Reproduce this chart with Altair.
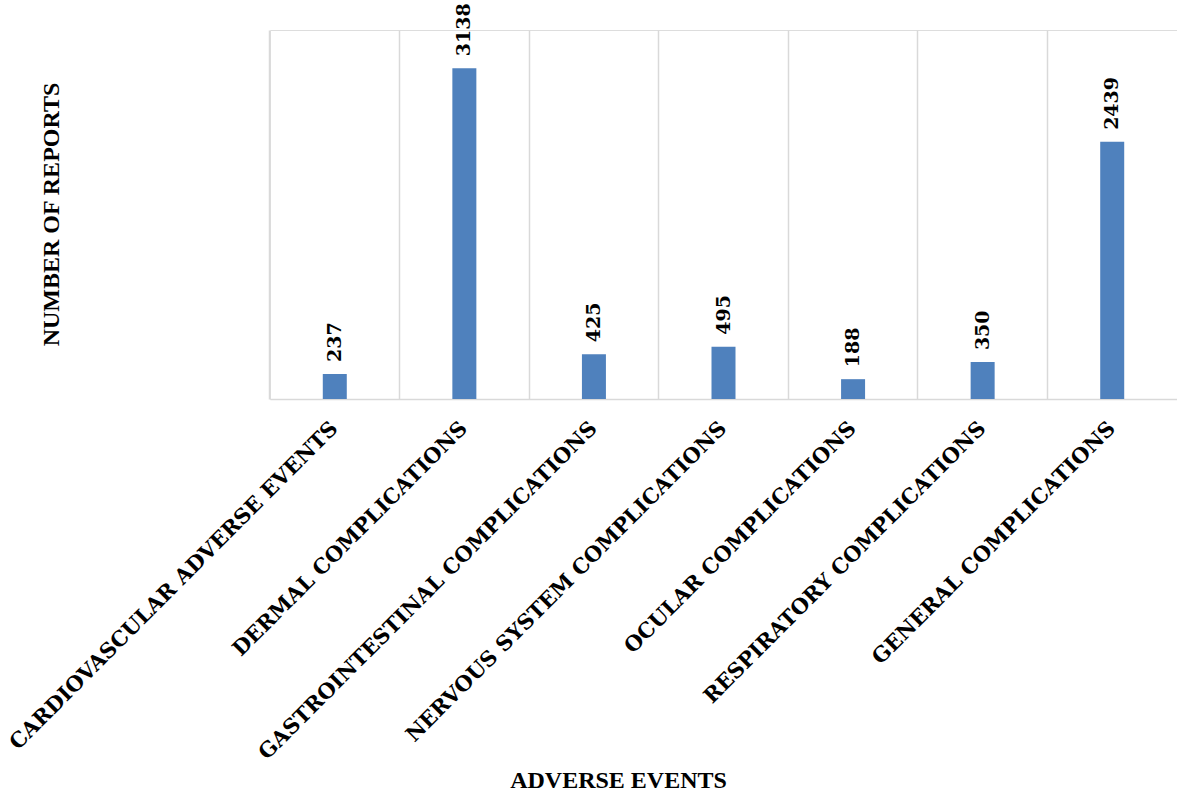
import altair as alt
import pandas as pd

categories = [
    "CARDIOVASCULAR ADVERSE EVENTS",
    "DERMAL COMPLICATIONS",
    "GASTROINTESTINAL COMPLICATIONS",
    "NERVOUS SYSTEM COMPLICATIONS",
    "OCULAR COMPLICATIONS",
    "RESPIRATORY COMPLICATIONS",
    "GENERAL COMPLICATIONS",
]
reports = [237, 3138, 425, 495, 188, 350, 2439]

df = pd.DataFrame({"event": categories, "reports": reports})

W, H = 907, 369
x = alt.X(
    "event:N",
    sort=categories,
    scale=alt.Scale(paddingInner=0, paddingOuter=0),
    axis=alt.Axis(
        title="ADVERSE EVENTS",
        titleFont="Liberation Serif",
        titleFontSize=24,
        titleFontWeight="bold",
        titleColor="#000000",
        titleX=348,
        titleY=381,
        titleAlign="center",
        titleBaseline="middle",
        labelAngle=-45,
        labelAlign="right",
        labelBaseline="middle",
        labelFont="DejaVu Serif",
        labelFontWeight="bold",
        labelFontSize=21,
        labelColor="#000000",
        labelPadding=26,
        labelLimit=0,
        ticks=False,
        grid=True,
        bandPosition=0,
        gridColor="#d9d9d9",
        gridWidth=1.5,
        domainColor="#d9d9d9",
        domainWidth=1.5,
    ),
)
y = alt.Y(
    "reports:Q",
    scale=alt.Scale(domain=[0, 3500], nice=False),
    axis=alt.Axis(
        title="NUMBER OF REPORTS",
        titleFont="Liberation Serif",
        titleFontSize=24,
        titleFontWeight="bold",
        titleColor="#000000",
        titleAngle=-90,
        titleX=-219,
        titleY=184,
        titleAlign="center",
        titleBaseline="middle",
        labels=False,
        ticks=False,
        domain=False,
        grid=False,
    ),
)

bars = alt.Chart(df).mark_bar(color="#4f81bd", size=24).encode(x=x, y=y)
text = alt.Chart(df).mark_text(
    angle=270,
    align="left",
    baseline="middle",
    dx=12,
    font="DejaVu Serif",
    fontWeight="bold",
    fontSize=19,
    color="#000000",
).encode(x=alt.X("event:N", sort=categories), y="reports:Q", text="reports:Q")

chart = (
    alt.layer(bars, text)
    .properties(
        width=W,
        height=H,
        autosize=alt.AutoSizeParams(type="none"),
        padding={"left": 270, "top": 30, "right": 0, "bottom": 396},
    )
    .configure_view(stroke=None)
    .configure(background="white")
)

chart.save("out.html", embed_options={"renderer": "svg", "actions": False})
